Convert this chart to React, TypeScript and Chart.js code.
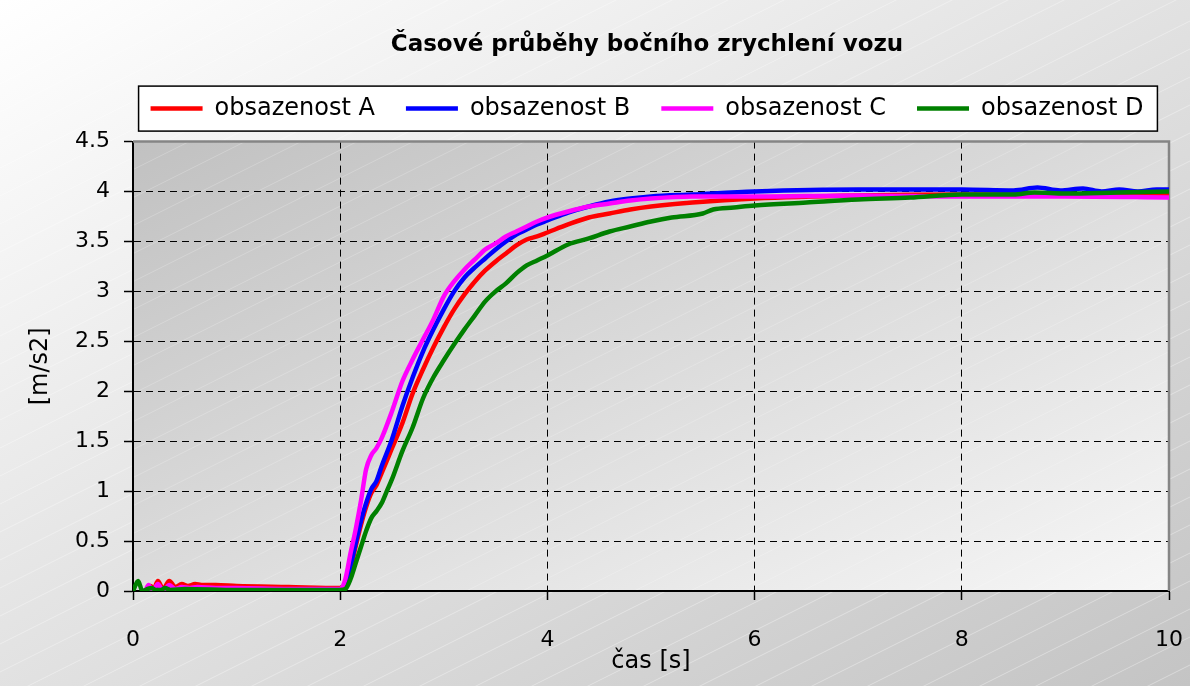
import { useEffect, useRef } from "react";
import { Chart, registerables } from "chart.js";

Chart.register(...registerables);

const chartTitle = "Časové průběhy bočního zrychlení vozu";
const xAxisTitle = "čas [s]";
const yAxisTitle = "[m/s2]";
const seriesNames = ["obsazenost A", "obsazenost B", "obsazenost C", "obsazenost D"];
const seriesColors = ["#ff0000", "#0000ff", "#ff00ff", "#008000"];
const xTickValues = [0, 2, 4, 6, 8, 10];
const yTickValues = [0, 0.5, 1, 1.5, 2, 2.5, 3, 3.5, 4, 4.5];

const timeA = [0.12, 0.17, 0.2, 0.24, 0.29, 0.35, 0.41, 0.47, 0.53, 0.6, 0.66, 0.8, 1.0, 1.5, 2.0, 2.05, 2.1, 2.15, 2.2, 2.25, 2.3, 2.35, 2.4, 2.5, 2.6, 2.7, 2.8, 2.9, 3.0, 3.1, 3.2, 3.3, 3.4, 3.5, 3.6, 3.7, 3.8, 3.9, 4.0, 4.2, 4.4, 4.6, 4.8, 5.0, 5.4, 6.0, 7.0, 8.0, 9.0, 10.0];
const accelA = [0.0, 0.05, 0.02, 0.1, 0.02, 0.1, 0.04, 0.07, 0.05, 0.07, 0.06, 0.06, 0.05, 0.04, 0.03, 0.06, 0.22, 0.45, 0.66, 0.84, 0.98, 1.06, 1.18, 1.43, 1.68, 1.98, 2.22, 2.44, 2.64, 2.82, 2.97, 3.1, 3.21, 3.3, 3.38, 3.46, 3.52, 3.55, 3.59, 3.67, 3.74, 3.78, 3.82, 3.85, 3.89, 3.93, 3.96, 3.97, 3.97, 3.97];

const timeB = [0.1, 0.2, 0.4, 1.0, 2.0, 2.05, 2.1, 2.15, 2.2, 2.25, 2.3, 2.35, 2.4, 2.5, 2.6, 2.7, 2.8, 2.9, 3.0, 3.1, 3.2, 3.3, 3.4, 3.5, 3.6, 3.7, 3.8, 3.9, 4.0, 4.2, 4.4, 4.6, 4.8, 5.0, 5.4, 6.0, 7.0, 8.0, 8.5, 8.73, 8.95, 9.17, 9.35, 9.52, 9.7, 9.88, 10.0];
const accelB = [0.0, 0.02, 0.02, 0.02, 0.01, 0.06, 0.25, 0.48, 0.7, 0.88, 1.02, 1.1, 1.25, 1.52, 1.85, 2.14, 2.4, 2.62, 2.82, 3.0, 3.14, 3.24, 3.33, 3.42, 3.5, 3.57, 3.62, 3.67, 3.71, 3.79, 3.85, 3.9, 3.93, 3.95, 3.97, 4.0, 4.02, 4.02, 4.01, 4.04, 4.01, 4.03, 4.0, 4.02, 4.0, 4.02, 4.02];

const timeC = [0.12, 0.15, 0.19, 0.24, 0.29, 0.35, 0.41, 0.47, 0.55, 0.62, 0.8, 1.0, 1.5, 2.0, 2.05, 2.1, 2.15, 2.2, 2.25, 2.3, 2.35, 2.4, 2.5, 2.6, 2.7, 2.8, 2.9, 3.0, 3.1, 3.2, 3.3, 3.4, 3.5, 3.6, 3.7, 3.8, 3.9, 4.0, 4.2, 4.4, 4.6, 4.8, 5.0, 5.4, 6.0, 7.0, 8.0, 9.0, 10.0];
const accelC = [0.0, 0.06, 0.0, 0.07, 0.0, 0.06, 0.02, 0.04, 0.03, 0.04, 0.03, 0.03, 0.02, 0.02, 0.12, 0.38, 0.62, 0.9, 1.22, 1.36, 1.43, 1.53, 1.8, 2.1, 2.32, 2.52, 2.72, 2.95, 3.1, 3.22, 3.32, 3.42, 3.48, 3.55, 3.6, 3.65, 3.7, 3.74, 3.8, 3.85, 3.88, 3.91, 3.93, 3.95, 3.95, 3.96, 3.95, 3.95, 3.94];

const timeD = [0.0, 0.05, 0.09, 0.14, 0.18, 0.22, 0.27, 0.31, 0.36, 0.5, 1.0, 2.0, 2.05, 2.1, 2.15, 2.2, 2.25, 2.3, 2.35, 2.4, 2.45, 2.5, 2.6, 2.7, 2.8, 2.9, 3.0, 3.1, 3.2, 3.3, 3.4, 3.5, 3.6, 3.7, 3.8, 3.9, 4.0, 4.2, 4.4, 4.6, 4.8, 5.0, 5.2, 5.5, 5.6, 5.8, 6.0, 6.5, 7.0, 7.5, 8.0, 8.5, 8.7, 9.0, 9.5, 10.0];
const accelD = [0.0, 0.1, 0.0, 0.02, 0.03, 0.01, 0.01, 0.03, 0.01, 0.02, 0.01, 0.01, 0.02, 0.12, 0.28, 0.44, 0.6, 0.73, 0.8, 0.88, 1.0, 1.12, 1.4, 1.64, 1.93, 2.14, 2.31, 2.47, 2.62, 2.76, 2.9, 3.0, 3.08, 3.18, 3.26, 3.31, 3.36, 3.47, 3.53, 3.6, 3.65, 3.7, 3.74, 3.78, 3.82, 3.84, 3.86, 3.89, 3.92, 3.94, 3.97, 3.97, 3.99, 3.98, 3.99, 4.0];

const seriesTimes = [timeA, timeB, timeC, timeD];
const seriesValues = [accelA, accelB, accelC, accelD];

const FONT = "'DejaVu Sans', sans-serif";

function fillDiag(ctx: CanvasRenderingContext2D, x: number, y: number, w: number, h: number, c0: string, c1: string) {
  const k = (2 * w * h) / (w * w + h * h);
  const g = ctx.createLinearGradient(x, y, x + k * h, y + k * w);
  g.addColorStop(0, c0);
  g.addColorStop(1, c1);
  ctx.fillStyle = g;
  ctx.fillRect(x, y, w, h);
}

function stripes(ctx: CanvasRenderingContext2D, x: number, y: number, w: number, h: number, alpha: number) {
  ctx.save();
  ctx.beginPath();
  ctx.rect(x, y, w, h);
  ctx.clip();
  ctx.strokeStyle = `rgba(255,255,255,${alpha})`;
  ctx.lineWidth = 1;
  const slope = 0.5;
  const gap = 28;
  ctx.beginPath();
  for (let c = y; c <= y + h + w * slope; c += gap) {
    ctx.moveTo(x, c);
    ctx.lineTo(x + w, c - slope * w);
  }
  ctx.stroke();
  ctx.restore();
}

const decorPlugin = {
  id: "decor",
  afterLayout(chart: any) {
    const L = 104;
    const R = chart.width;
    const t = chart.titleBlock;
    if (t) {
      t.left = L;
      t.right = R;
      t.width = R - L;
    }
    const lg = chart.legend;
    if (lg) {
      lg.left = L;
      lg.right = R;
      lg.width = R - L;
      lg.top -= 11;
      lg.bottom -= 11;
    }
  },
  beforeDraw(chart: any) {
    const { ctx, width: W, height: H, chartArea: a } = chart;
    ctx.save();
    fillDiag(ctx, 0, 0, W, H, "#ffffff", "#c4c4c4");
    stripes(ctx, 0, 0, W, H, 0.35);
    fillDiag(ctx, a.left, a.top, a.right - a.left, a.bottom - a.top, "#c1c1c1", "#f6f6f6");
    stripes(ctx, a.left, a.top, a.right - a.left, a.bottom - a.top, 0.22);
    const hb = chart.legend && chart.legend.legendHitBoxes;
    if (hb && hb.length) {
      const x0 = hb[0].left - 12;
      const last = hb[hb.length - 1];
      const x1 = last.left + last.width + 14;
      const cy = hb[0].top + hb[0].height / 2;
      ctx.fillStyle = "#ffffff";
      ctx.fillRect(x0, cy - 22.5, x1 - x0, 45);
      ctx.strokeStyle = "#000000";
      ctx.lineWidth = 1.5;
      ctx.strokeRect(x0, cy - 22.5, x1 - x0, 45);
    }
    ctx.restore();
  },
  beforeDatasetsDraw(chart: any) {
    const { ctx, chartArea: a } = chart;
    ctx.save();
    ctx.strokeStyle = "#858585";
    ctx.lineWidth = 2.5;
    ctx.beginPath();
    ctx.moveTo(a.left, a.top);
    ctx.lineTo(a.right, a.top);
    ctx.lineTo(a.right, a.bottom);
    ctx.stroke();
    ctx.restore();
  },
};

export default function App() {
  const canvasRef = useRef<HTMLCanvasElement | null>(null);

  useEffect(() => {
    const canvas = canvasRef.current;
    if (!canvas) return;
    const datasets = seriesNames.map((name, i) => ({
      label: name,
      data: seriesTimes[i].map((t, j) => ({ x: t, y: seriesValues[i][j] })),
      borderColor: seriesColors[i],
      backgroundColor: seriesColors[i],
      borderWidth: 4.5,
      pointRadius: 0,
      pointHoverRadius: 0,
      cubicInterpolationMode: "monotone" as const,
      order: 3 - i,
    }));

    const gridCfg = {
      color: "#000000",
      lineWidth: 1,
      tickLength: 9,
      tickColor: "#000000",
      tickWidth: 1.5,
      tickBorderDash: [],
      drawOnChartArea: true,
      drawTicks: true,
    };
    const borderCfg = { display: true, color: "#000000", width: 2, dash: [7, 5] };

    const chart = new Chart(canvas, {
      type: "line",
      data: { datasets },
      plugins: [decorPlugin],
      options: {
        animation: false,
        responsive: false,
        events: [],
        layout: { padding: { top: 0, left: 0, right: 21, bottom: 0 } },
        plugins: {
          tooltip: { enabled: false },
          title: {
            display: true,
            text: chartTitle,
            color: "#000000",
            font: { family: FONT, size: 23, weight: "bold" },
            padding: { top: 31, bottom: 18 },
          },
          legend: {
            display: true,
            position: "top",
            labels: {
              usePointStyle: true,
              pointStyle: "line",
              pointStyleWidth: 52,
              color: "#000000",
              font: { family: FONT, size: 24 },
              padding: 31,
              sort: (a: any, b: any) => a.datasetIndex - b.datasetIndex,
            },
          },
        },
        scales: {
          x: {
            type: "linear",
            min: 0,
            max: 10,
            afterBuildTicks: (s: any) => {
              s.ticks = xTickValues.map((v) => ({ value: v }));
            },
            afterFit: (s: any) => {
              s.height = 95;
              s.paddingLeft = 0;
              s.paddingRight = 0;
            },
            grid: gridCfg,
            border: borderCfg,
            ticks: {
              color: "#000000",
              font: { family: FONT, size: 22 },
              padding: 27,
              maxRotation: 0,
              autoSkip: false,
              callback: (v: any) => String(v),
            },
            title: {
              display: true,
              text: xAxisTitle,
              color: "#000000",
              font: { family: FONT, size: 24 },
              padding: { top: 0, bottom: 10 },
            },
          },
          y: {
            type: "linear",
            min: 0,
            max: 4.5,
            afterBuildTicks: (s: any) => {
              s.ticks = yTickValues.map((v) => ({ value: v }));
            },
            afterFit: (s: any) => {
              s.width = 133;
            },
            grid: gridCfg,
            border: borderCfg,
            ticks: {
              color: "#000000",
              font: { family: FONT, size: 22 },
              padding: 14,
              autoSkip: false,
              callback: (v: any) => String(v),
            },
            title: {
              display: true,
              text: yAxisTitle,
              color: "#000000",
              font: { family: FONT, size: 24 },
              padding: { top: 26, bottom: 0 },
            },
          },
        },
      } as any,
    });
    return () => chart.destroy();
  }, []);

  return (
    <div style={{ position: "absolute", left: 0, top: 0, width: 1190, height: 686 }}>
      <canvas ref={canvasRef} width={1190} height={686} style={{ display: "block" }} />
    </div>
  );
}
